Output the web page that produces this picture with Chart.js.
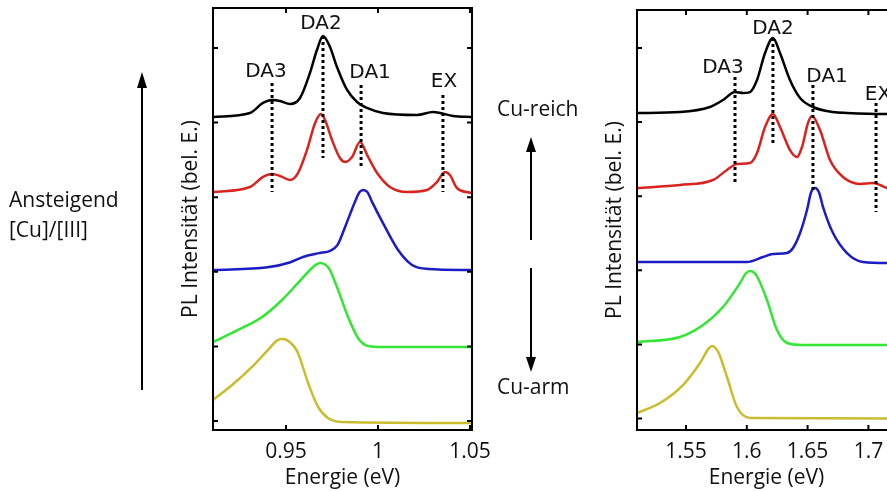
<!DOCTYPE html>
<html lang="de">
<head>
<meta charset="UTF-8">
<title>PL Spektren Cu-reich / Cu-arm</title>
<script src="https://cdn.jsdelivr.net/npm/chart.js@4"></script>
<style>
  html, body { margin: 0; padding: 0; width: 887px; height: 491px; overflow: hidden; background: #fff; }
  body { position: relative; font-family: "Open Sans", sans-serif; color: #111; }
  .panel { position: absolute; top: 0; }
  #panelLeft { left: 170px; }
  #panelRight { left: 594px; }
  .note { position: absolute; font-size: 21px; line-height: 30px; white-space: nowrap; z-index: 2; }
  svg { position: absolute; left: 0; top: 0; z-index: 1; }
</style>
</head>
<body>
<div class="note" style="left:9px; top:184px;">Ansteigend<br>[Cu]/[III]</div>
<div class="note" style="left:497px; top:93px;">Cu-reich</div>
<div class="note" style="left:497px; top:371px;">Cu-arm</div>

<svg width="887" height="491">
  <g stroke="#000" stroke-width="2" fill="#000">
    <line x1="142" y1="390" x2="142" y2="84"/>
    <polygon points="142,72 137,88 147,88" stroke="none"/>
    <line x1="531" y1="240" x2="531" y2="148"/>
    <polygon points="531,137 526,152 536,152" stroke="none"/>
    <line x1="531" y1="268" x2="531" y2="361"/>
    <polygon points="531,372 526,357 536,357" stroke="none"/>
  </g>
</svg>

<div class="panel" id="panelLeft"><canvas id="chartLeft" width="330" height="491"></canvas></div>
<div class="panel" id="panelRight"><canvas id="chartRight" width="330" height="491"></canvas></div>

<script>
// ---- left panel (energy in eV, intensity offset per spectrum) ----
const leftXRange = [0.9103, 1.0511];
const leftYRange = [-0.121, 5.536];
const leftXTicks = [0.95, 1.0, 1.05];

const leftBlack = [[0.9103,4.075],[0.9304,4.129],[0.9375,4.263],[0.9424,4.303],[0.9467,4.290],[0.9522,4.249],
  [0.9576,4.330],[0.9630,4.665],[0.9668,4.973],[0.9701,5.161],[0.9739,5.013],[0.9777,4.745],[0.9832,4.437],
  [0.9886,4.276],[0.9940,4.196],[1.0027,4.129],[1.0212,4.102],[1.0299,4.142],[1.0337,4.129],[1.0408,4.088],[1.0511,4.075]];
const leftRed = [[0.9103,3.070],[0.9304,3.137],[0.9375,3.271],[0.9424,3.311],[0.9467,3.284],[0.9522,3.231],
  [0.9565,3.324],[0.9614,3.633],[0.9658,3.995],[0.9690,4.115],[0.9712,4.035],[0.9750,3.767],[0.9793,3.525],
  [0.9821,3.472],[0.9859,3.539],[0.9902,3.740],[0.9946,3.539],[0.9995,3.324],[1.0065,3.137],[1.0158,3.070],
  [1.0266,3.097],[1.0321,3.204],[1.0364,3.338],[1.0391,3.298],[1.0429,3.123],[1.0511,3.056]];
const leftBlue = [[0.9103,2.024],[0.9400,2.060],[0.9520,2.125],[0.9600,2.205],[0.9680,2.250],[0.9740,2.280],
  [0.9780,2.360],[0.9821,2.601],[0.9875,2.940],[0.9900,3.070],[0.9920,3.097],[0.9942,3.070],[0.9967,2.940],
  [1.0038,2.601],[1.0109,2.292],[1.0185,2.091],[1.0272,2.038],[1.0511,2.024]];
const leftGreen = [[0.9103,1.059],[0.9239,1.220],[0.9370,1.394],[0.9478,1.622],[0.9565,1.850],[0.9641,2.051],
  [0.9665,2.100],[0.9688,2.118],[0.9710,2.100],[0.9735,2.040],[0.9783,1.756],[0.9837,1.394],[0.9891,1.113],
  [0.9946,1.005],[1.0022,0.992],[1.0511,0.992]];
const leftYellow = [[0.9103,0.282],[0.9207,0.483],[0.9315,0.724],[0.9402,0.952],[0.9452,1.080],[0.9478,1.099],
  [0.9505,1.085],[0.9540,1.010],[0.9565,0.912],[0.9620,0.509],[0.9674,0.188],[0.9728,0.040],[0.9804,-0.013],[1.0511,-0.027]];

const leftMarkE = [0.9424, 0.9701, 0.9908, 1.0353];
const leftMarkTop = [4.531, 5.161, 4.504, 4.370];
const leftMarkBottom = [3.070, 3.525, 3.405, 3.070];
const leftLabelE = [0.9391, 0.9690, 0.9957, 1.0359];
const leftLabelY = [4.678, 5.322, 4.665, 4.544];

// ---- right panel ----
const rightXRange = [1.5097, 1.7227];
const rightYRange = [-0.155, 5.513];
const rightXTicks = [1.55, 1.6, 1.65, 1.7];

const rightBlack = [[1.5097,4.123],[1.5451,4.136],[1.5697,4.204],[1.5804,4.298],[1.5903,4.406],[1.5969,4.393],
  [1.6026,4.406],[1.6084,4.568],[1.6150,4.933],[1.6215,5.135],[1.6273,4.933],[1.6355,4.568],[1.6438,4.325],
  [1.6544,4.204],[1.6709,4.136],[1.6824,4.123],[1.7153,4.109],[1.7227,4.109]];
const rightRed = [[1.5097,3.111],[1.5451,3.151],[1.5722,3.219],[1.5837,3.354],[1.5919,3.435],[1.6026,3.448],
  [1.6084,3.583],[1.6150,3.934],[1.6215,4.109],[1.6273,3.934],[1.6355,3.623],[1.6413,3.529],[1.6454,3.664],
  [1.6503,3.988],[1.6536,4.082],[1.6602,3.893],[1.6684,3.489],[1.6791,3.259],[1.6931,3.165],[1.7038,3.178],
  [1.7095,3.151],[1.7153,3.111],[1.7227,3.100]];
const rightBlue = [[1.5097,2.112],[1.6002,2.112],[1.6133,2.179],[1.6215,2.220],[1.6331,2.233],[1.6380,2.301],
  [1.6438,2.503],[1.6495,2.814],[1.6528,3.050],[1.6561,3.111],[1.6594,3.050],[1.6627,2.854],[1.6709,2.503],
  [1.6824,2.233],[1.6956,2.112],[1.7153,2.098],[1.7227,2.098]];
const rightGreen = [[1.5097,1.032],[1.5451,1.100],[1.5640,1.262],[1.5804,1.505],[1.5944,1.829],[1.5993,1.960],
  [1.6026,1.991],[1.6059,1.970],[1.6090,1.900],[1.6166,1.599],[1.6248,1.194],[1.6331,1.019],[1.6462,0.992],[1.7227,0.992]];
const rightYellow = [[1.5097,0.074],[1.5286,0.209],[1.5475,0.452],[1.5615,0.749],[1.5689,0.950],[1.5714,0.978],
  [1.5740,0.955],[1.5770,0.880],[1.5837,0.560],[1.5919,0.155],[1.6026,0.007],[1.7227,0.000]];

const rightMarkE = [1.5903, 1.6215, 1.6544, 1.7063];
const rightMarkTop = [4.609, 5.135, 4.501, 4.258];
const rightMarkBottom = [3.151, 3.691, 3.057, 2.787];
const rightLabelE = [1.5804, 1.6215, 1.6660, 1.7079];
const rightLabelY = [4.730, 5.256, 4.609, 4.366];

const peakNames = ['DA3', 'DA2', 'DA1', 'EX'];
const yTicks = [0, 1, 2, 3, 4, 5];
const traceColors = ['#000000', '#d8231f', '#1c1cc4', '#33e633', '#c9bd2e'];

Chart.defaults.color = '#111';
Chart.defaults.font.family = '"Open Sans", sans-serif';

// box with inward ticks on all four sides
const framePlugin = {
  id: 'frame',
  afterDatasetsDraw(chart) {
    const { ctx, chartArea: a, scales: { x, y } } = chart;
    ctx.save();
    ctx.strokeStyle = '#000';
    ctx.lineWidth = 2;
    ctx.strokeRect(a.left, a.top, a.right - a.left, a.bottom - a.top);
    ctx.beginPath();
    x.ticks.forEach(t => {
      const px = x.getPixelForValue(t.value);
      ctx.moveTo(px, a.bottom); ctx.lineTo(px, a.bottom - 5);
      ctx.moveTo(px, a.top); ctx.lineTo(px, a.top + 5);
    });
    y.ticks.forEach(t => {
      const py = y.getPixelForValue(t.value);
      ctx.moveTo(a.left, py); ctx.lineTo(a.left + 5, py);
      ctx.moveTo(a.right, py); ctx.lineTo(a.right - 5, py);
    });
    ctx.stroke();
    ctx.restore();
  }
};

const peakLabelPlugin = {
  id: 'peakLabels',
  afterDatasetsDraw(chart, args, opts) {
    const { ctx, scales: { x, y } } = chart;
    ctx.save();
    ctx.fillStyle = '#111';
    ctx.font = '20px "DejaVu Sans", sans-serif';
    ctx.textAlign = 'center';
    ctx.textBaseline = 'middle';
    opts.names.forEach((n, i) => {
      ctx.fillText(n, x.getPixelForValue(opts.xs[i]), y.getPixelForValue(opts.ys[i]));
    });
    ctx.restore();
  }
};

function traceSet(points, color) {
  return {
    data: points.map(([x, y]) => ({ x, y })),
    borderColor: color, borderWidth: 2.5, pointRadius: 0,
    showLine: true, fill: false, cubicInterpolationMode: 'monotone', order: 1
  };
}

function markerSet(e, top, bottom) {
  return {
    data: [{ x: e, y: top }, { x: e, y: bottom }],
    borderColor: '#000', borderWidth: 3, borderDash: [3, 3], borderCapStyle: 'butt',
    pointRadius: 0, showLine: true, fill: false, order: 0
  };
}

function makeChart(id, traces, markE, markTop, markBottom, labelE, labelY, xRange, yRange, xTicks, padTop) {
  const datasets = [];
  markE.forEach((e, i) => datasets.push(markerSet(e, markTop[i], markBottom[i])));
  traces.forEach((t, i) => datasets.push(traceSet(t, traceColors[i])));

  return new Chart(document.getElementById(id), {
    type: 'scatter',
    data: { datasets },
    options: {
      responsive: false,
      animation: false,
      layout: { padding: { top: padTop, right: 28, bottom: 0, left: 0 } },
      plugins: {
        legend: { display: false },
        tooltip: { enabled: false },
        peakLabels: { names: peakNames, xs: labelE, ys: labelY }
      },
      scales: {
        x: {
          type: 'linear', min: xRange[0], max: xRange[1],
          afterBuildTicks: s => { s.ticks = xTicks.map(v => ({ value: v })); },
          afterFit: s => { s.height = 61; },
          grid: { display: false, drawTicks: false },
          border: { display: false },
          ticks: { font: { size: 21 }, padding: 9, color: '#111', callback: v => String(+v.toFixed(2)) },
          title: { display: true, text: 'Energie (eV)', font: { size: 21 }, padding: { top: 0, bottom: 0 }, color: '#111' }
        },
        y: {
          type: 'linear', min: yRange[0], max: yRange[1],
          afterBuildTicks: s => { s.ticks = yTicks.map(v => ({ value: v })); },
          afterFit: s => { s.width = 43; },
          grid: { display: false, drawTicks: false },
          border: { display: false },
          ticks: { display: false },
          title: { display: true, text: 'PL Intensität (bel. E.)', font: { size: 21 }, padding: { top: 8, bottom: 0 }, color: '#111' }
        }
      }
    },
    plugins: [framePlugin, peakLabelPlugin]
  });
}

makeChart('chartLeft', [leftBlack, leftRed, leftBlue, leftGreen, leftYellow],
  leftMarkE, leftMarkTop, leftMarkBottom, leftLabelE, leftLabelY, leftXRange, leftYRange, leftXTicks, 8);
makeChart('chartRight', [rightBlack, rightRed, rightBlue, rightGreen, rightYellow],
  rightMarkE, rightMarkTop, rightMarkBottom, rightLabelE, rightLabelY, rightXRange, rightYRange, rightXTicks, 10);
</script>
</body>
</html>
